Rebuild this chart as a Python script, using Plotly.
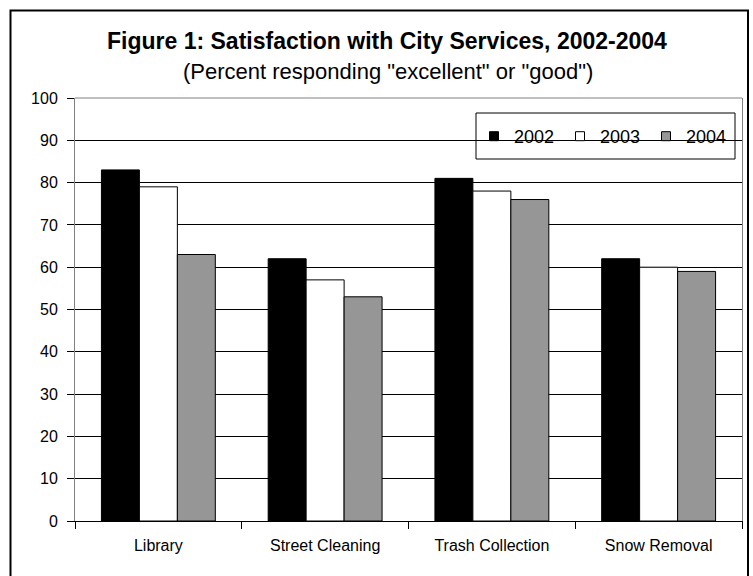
import plotly.graph_objects as go

categories = ["Library", "Street Cleaning", "Trash Collection", "Snow Removal"]
years = ["2002", "2003", "2004"]
values_2002 = [83, 62, 81, 62]
values_2003 = [79, 57, 78, 60]
values_2004 = [63, 53, 76, 59]
colors = ["#000000", "#FFFFFF", "#969696"]
y_ticks = list(range(0, 101, 10))

FONT = "Liberation Sans, Arial, sans-serif"

fig = go.Figure()
for name, vals, col in zip(years, [values_2002, values_2003, values_2004], colors):
    fig.add_trace(go.Bar(
        x=categories, y=vals, name=name, showlegend=False, legendgroup=name,
        marker=dict(color=col, line=dict(color="#000000", width=1)),
    ))
# legend entries with small square symbols
for name, col in zip(years, colors):
    fig.add_trace(go.Scatter(
        x=[None], y=[None], mode="markers", name=name, legendgroup=name,
        marker=dict(symbol="square", size=9, color=col, line=dict(color="#000000", width=1)),
    ))

W, H = 753, 576
L, R, T, B = 75, 11, 98, 55
pw, ph = W - L - R, H - T - B

def px_x(p):
    return (p - L) / pw

def px_y(p):
    return (H - B - p) / ph

fig.update_layout(
    width=W, height=H,
    margin=dict(l=L, r=R, t=T, b=B, pad=0),
    paper_bgcolor="white", plot_bgcolor="white",
    barmode="group", bargap=0.317, bargroupgap=0,
    font=dict(family=FONT, size=16, color="#000000"),
    showlegend=True,
    legend=dict(
        orientation="h", x=px_x(474), y=px_y(118), xanchor="left", yanchor="top",
        borderwidth=0, bgcolor="rgba(0,0,0,0)",
        font=dict(family=FONT, size=18, color="#000000"),
        entrywidth=41, entrywidthmode="pixels",
        itemwidth=30,
    ),
    xaxis=dict(
        type="category", tickson="boundaries", ticks="outside", ticklen=7,
        tickcolor="#000000", showline=True, linecolor="#000000", linewidth=1,
        showgrid=False, tickfont=dict(family=FONT, size=16, color="#000000"),
        ticklabelstandoff=10,
    ),
    yaxis=dict(
        range=[0, 100], tickvals=y_ticks, ticks="outside", ticklen=7,
        tickcolor="#000000", showline=True, linecolor="#808080", linewidth=1,
        mirror=True, showgrid=True, gridcolor="#000000", gridwidth=1,
        zeroline=False, tickfont=dict(family=FONT, size=16, color="#000000"),
        ticklabelstandoff=6,
    ),
    annotations=[
        dict(text="<b>Figure 1: Satisfaction with City Services, 2002-2004</b>",
             xref="paper", yref="paper", x=px_x(387), y=px_y(41),
             xanchor="center", yanchor="middle", showarrow=False,
             font=dict(family=FONT, size=23, color="#000000")),
        dict(text="(Percent responding \"excellent\" or \"good\")",
             xref="paper", yref="paper", x=px_x(387.5), y=px_y(71),
             xanchor="center", yanchor="middle", showarrow=False,
             font=dict(family=FONT, size=22, color="#000000")),
    ],
    shapes=[
        dict(type="rect", xref="paper", yref="paper",
             x0=px_x(10.5), x1=px_x(748), y0=px_y(578), y1=px_y(10.5),
             line=dict(color="#000000", width=2), fillcolor="rgba(0,0,0,0)", layer="above"),
        dict(type="line", xref="paper", yref="paper", x0=0, x1=1, y0=1, y1=1,
             line=dict(color="#808080", width=1)),
        dict(type="rect", xref="paper", yref="paper",
             x0=px_x(476), x1=px_x(735), y0=px_y(159), y1=px_y(113),
             line=dict(color="#000000", width=1), fillcolor="white", layer="below"),
    ],
)

fig.write_html("out.html")
